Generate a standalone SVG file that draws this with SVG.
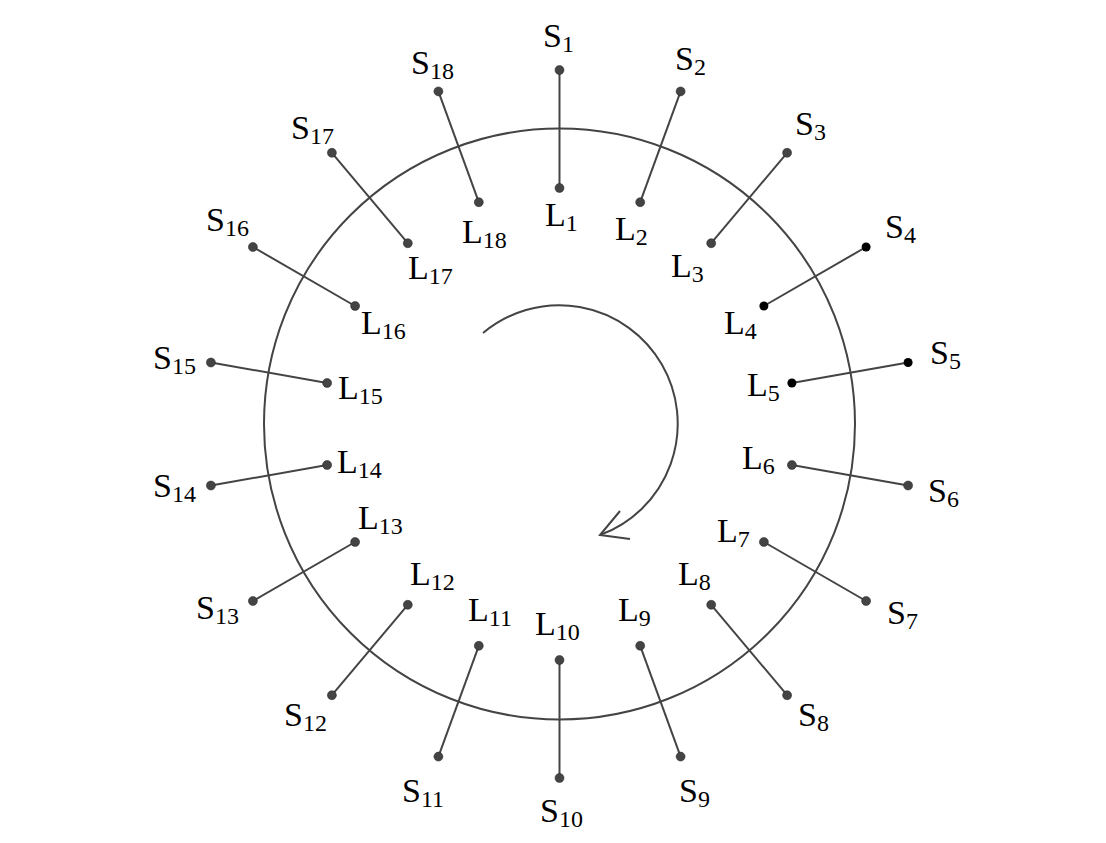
<svg xmlns="http://www.w3.org/2000/svg" width="1106" height="843" viewBox="0 0 1106 843">
<style>
.ln{stroke:#444;stroke-width:2;fill:none}
.pt{fill:#444;stroke:#222;stroke-width:0.5}
.pk{fill:#000}
text{font-family:"Liberation Serif","Times New Roman",serif;font-size:34px;fill:#000}
.sb{font-size:24px}
</style>
<rect width="1106" height="843" fill="#fff"/>
<g id="ring"><circle class="ln" cx="559.5" cy="424" r="295.5"/></g>
<g id="rotation"><path class="ln" d="M483,333 A118.5,118.5 0 1 1 600,535"/><polyline class="ln" points="620,511 600,535 630,539"/></g>
<g id="connectors">
<line class="ln" x1="559.5" y1="70" x2="559.5" y2="188"/>
<line class="ln" x1="680.6" y1="91.4" x2="640.2" y2="202.2"/>
<line class="ln" x1="787.1" y1="152.8" x2="711.2" y2="243.2"/>
<line class="ln" x1="866.1" y1="247" x2="763.9" y2="306"/>
<line class="ln" x1="908.1" y1="362.5" x2="791.9" y2="383"/>
<line class="ln" x1="908.1" y1="485.5" x2="791.9" y2="465"/>
<line class="ln" x1="866.1" y1="601" x2="763.9" y2="542"/>
<line class="ln" x1="787.1" y1="695.2" x2="711.2" y2="604.8"/>
<line class="ln" x1="680.6" y1="756.6" x2="640.2" y2="645.8"/>
<line class="ln" x1="559.5" y1="778" x2="559.5" y2="660"/>
<line class="ln" x1="438.4" y1="756.6" x2="478.8" y2="645.8"/>
<line class="ln" x1="331.9" y1="695.2" x2="407.8" y2="604.8"/>
<line class="ln" x1="252.9" y1="601" x2="355.1" y2="542"/>
<line class="ln" x1="210.9" y1="485.5" x2="327.1" y2="465"/>
<line class="ln" x1="210.9" y1="362.5" x2="327.1" y2="383"/>
<line class="ln" x1="252.9" y1="247" x2="355.1" y2="306"/>
<line class="ln" x1="331.9" y1="152.8" x2="407.8" y2="243.2"/>
<line class="ln" x1="438.4" y1="91.4" x2="478.8" y2="202.2"/>
</g>
<g id="S1"><circle class="pt" cx="559.5" cy="70" r="4.5"/><text x="543" y="47">S<tspan class="sb" dy="5">1</tspan></text></g>
<g id="S2"><circle class="pt" cx="680.6" cy="91.4" r="4.5"/><text x="675" y="70">S<tspan class="sb" dy="5">2</tspan></text></g>
<g id="S3"><circle class="pt" cx="787.1" cy="152.8" r="4.5"/><text x="795" y="135">S<tspan class="sb" dy="5">3</tspan></text></g>
<g id="S4"><circle class="pk" cx="866.1" cy="247" r="4.5"/><text x="885" y="238">S<tspan class="sb" dy="5">4</tspan></text></g>
<g id="S5"><circle class="pk" cx="908.1" cy="362.5" r="4.5"/><text x="930" y="364">S<tspan class="sb" dy="5">5</tspan></text></g>
<g id="S6"><circle class="pt" cx="908.1" cy="485.5" r="4.5"/><text x="928" y="502">S<tspan class="sb" dy="5">6</tspan></text></g>
<g id="S7"><circle class="pt" cx="866.1" cy="601" r="4.5"/><text x="887" y="624">S<tspan class="sb" dy="5">7</tspan></text></g>
<g id="S8"><circle class="pt" cx="787.1" cy="695.2" r="4.5"/><text x="798" y="726">S<tspan class="sb" dy="5">8</tspan></text></g>
<g id="S9"><circle class="pt" cx="680.6" cy="756.6" r="4.5"/><text x="679" y="802">S<tspan class="sb" dy="5">9</tspan></text></g>
<g id="S10"><circle class="pt" cx="559.5" cy="778" r="4.5"/><text x="540" y="822">S<tspan class="sb" dy="5">10</tspan></text></g>
<g id="S11"><circle class="pt" cx="438.4" cy="756.6" r="4.5"/><text x="402" y="802">S<tspan class="sb" dy="5">11</tspan></text></g>
<g id="S12"><circle class="pt" cx="331.9" cy="695.2" r="4.5"/><text x="284" y="726">S<tspan class="sb" dy="5">12</tspan></text></g>
<g id="S13"><circle class="pt" cx="252.9" cy="601" r="4.5"/><text x="196" y="619">S<tspan class="sb" dy="5">13</tspan></text></g>
<g id="S14"><circle class="pt" cx="210.9" cy="485.5" r="4.5"/><text x="153" y="497">S<tspan class="sb" dy="5">14</tspan></text></g>
<g id="S15"><circle class="pt" cx="210.9" cy="362.5" r="4.5"/><text x="153" y="369">S<tspan class="sb" dy="5">15</tspan></text></g>
<g id="S16"><circle class="pt" cx="252.9" cy="247" r="4.5"/><text x="206" y="231">S<tspan class="sb" dy="5">16</tspan></text></g>
<g id="S17"><circle class="pt" cx="331.9" cy="152.8" r="4.5"/><text x="291" y="139">S<tspan class="sb" dy="5">17</tspan></text></g>
<g id="S18"><circle class="pt" cx="438.4" cy="91.4" r="4.5"/><text x="411" y="74">S<tspan class="sb" dy="5">18</tspan></text></g>
<g id="L1"><circle class="pt" cx="559.5" cy="188" r="4.5"/><text x="545" y="226">L<tspan class="sb" dy="5">1</tspan></text></g>
<g id="L2"><circle class="pt" cx="640.2" cy="202.2" r="4.5"/><text x="615" y="240">L<tspan class="sb" dy="5">2</tspan></text></g>
<g id="L3"><circle class="pt" cx="711.2" cy="243.2" r="4.5"/><text x="671" y="277">L<tspan class="sb" dy="5">3</tspan></text></g>
<g id="L4"><circle class="pk" cx="763.9" cy="306" r="4.5"/><text x="724" y="334">L<tspan class="sb" dy="5">4</tspan></text></g>
<g id="L5"><circle class="pk" cx="791.9" cy="383" r="4.5"/><text x="747" y="396">L<tspan class="sb" dy="5">5</tspan></text></g>
<g id="L6"><circle class="pt" cx="791.9" cy="465" r="4.5"/><text x="742" y="469">L<tspan class="sb" dy="5">6</tspan></text></g>
<g id="L7"><circle class="pt" cx="763.9" cy="542" r="4.5"/><text x="717" y="542">L<tspan class="sb" dy="5">7</tspan></text></g>
<g id="L8"><circle class="pt" cx="711.2" cy="604.8" r="4.5"/><text x="678" y="585">L<tspan class="sb" dy="5">8</tspan></text></g>
<g id="L9"><circle class="pt" cx="640.2" cy="645.8" r="4.5"/><text x="618" y="621">L<tspan class="sb" dy="5">9</tspan></text></g>
<g id="L10"><circle class="pt" cx="559.5" cy="660" r="4.5"/><text x="535" y="635">L<tspan class="sb" dy="5">10</tspan></text></g>
<g id="L11"><circle class="pt" cx="478.8" cy="645.8" r="4.5"/><text x="468" y="621">L<tspan class="sb" dy="5">11</tspan></text></g>
<g id="L12"><circle class="pt" cx="407.8" cy="604.8" r="4.5"/><text x="410" y="585">L<tspan class="sb" dy="5">12</tspan></text></g>
<g id="L13"><circle class="pt" cx="355.1" cy="542" r="4.5"/><text x="358" y="529">L<tspan class="sb" dy="5">13</tspan></text></g>
<g id="L14"><circle class="pt" cx="327.1" cy="465" r="4.5"/><text x="337" y="473">L<tspan class="sb" dy="5">14</tspan></text></g>
<g id="L15"><circle class="pt" cx="327.1" cy="383" r="4.5"/><text x="338" y="399">L<tspan class="sb" dy="5">15</tspan></text></g>
<g id="L16"><circle class="pt" cx="355.1" cy="306" r="4.5"/><text x="361" y="334">L<tspan class="sb" dy="5">16</tspan></text></g>
<g id="L17"><circle class="pt" cx="407.8" cy="243.2" r="4.5"/><text x="408" y="279">L<tspan class="sb" dy="5">17</tspan></text></g>
<g id="L18"><circle class="pt" cx="478.8" cy="202.2" r="4.5"/><text x="462" y="243">L<tspan class="sb" dy="5">18</tspan></text></g>
</svg>
